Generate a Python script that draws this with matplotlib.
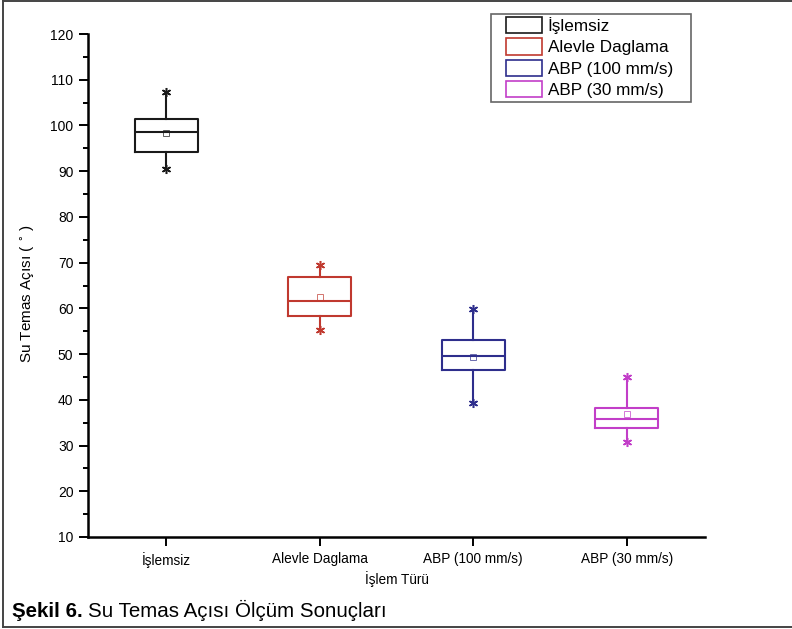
import matplotlib
matplotlib.use("Agg")
import matplotlib.pyplot as plt
from matplotlib.lines import Line2D
from matplotlib.patches import Rectangle, Patch

matplotlib.rcParams['font.family'] = ['Liberation Sans', 'DejaVu Sans']
matplotlib.rcParams['font.size'] = 10

# box statistics (water contact angle, degrees)
groups = ["İşlemsiz", "Alevle Daglama", "ABP (100 mm/s)", "ABP (30 mm/s)"]
q1 = [94.2, 58.3, 46.6, 33.8]
med = [98.5, 61.6, 49.5, 35.8]
q3 = [101.5, 66.9, 53.0, 38.3]
mean = [98.3, 62.4, 49.4, 37.0]
wlo = [90.4, 55.2, 39.2, 30.8]
whi = [107.4, 69.4, 59.8, 45.0]
colors = ["#1a1a1a", "#c0392f", "#2e2e8c", "#c23ec8"]

W, H = 792, 629
fig = plt.figure(figsize=(W / 100, H / 100), dpi=100)
ax = fig.add_axes([88 / W, 1 - 537 / H, (705 - 88) / W, (537 - 34) / H])

pos = list(range(1, len(groups) + 1))
for i in range(len(groups)):
    st = [dict(med=med[i], q1=q1[i], q3=q3[i], whislo=wlo[i], whishi=whi[i],
               mean=mean[i], fliers=[])]
    c = colors[i]
    ax.bxp(st, positions=[pos[i]], widths=0.41, showmeans=True, showcaps=False,
           showfliers=False, patch_artist=False,
           boxprops=dict(color=c, linewidth=1.5),
           medianprops=dict(color=c, linewidth=1.5),
           whiskerprops=dict(color=c, linewidth=1.5),
           meanprops=dict(marker='s', markersize=5, markerfacecolor='none',
                          markeredgecolor=c, markeredgewidth=0.7, alpha=0.7))
    # asterisks at the whisker ends
    ax.plot([pos[i], pos[i]], [wlo[i], whi[i]], ls='none', marker=(6, 2, 0),
            markersize=6.5, markeredgewidth=1.1, color=c)

ax.set_xlim(0.49, 4.51)
ax.set_ylim(10, 120)
ax.set_yticks(range(10, 121, 10))
ax.set_yticks(range(15, 120, 10), minor=True)
ax.set_xticks(pos)
ax.set_xticklabels(groups, fontsize=9.8)
ax.tick_params(axis='y', which='major', direction='out', length=6.5, width=1.4,
               labelsize=10, pad=4)
ax.tick_params(axis='y', which='minor', direction='out', length=3.6, width=1.4)
ax.tick_params(axis='x', which='major', direction='out', length=6.5, width=1.4,
               pad=4)
ax.spines['top'].set_visible(False)
ax.spines['right'].set_visible(False)
ax.spines['left'].set_linewidth(1.8)
ax.spines['bottom'].set_linewidth(1.8)

ax.set_ylabel("Su Temas Açısı ( $^{\\circ}$ )", fontsize=11)
ax.yaxis.set_label_coords(-0.083, 0.483)
ax.set_xlabel("İşlem Türü", fontsize=9.8)
ax.xaxis.set_label_coords(0.5, -0.068)

# legend, frame drawn separately
handles = [Patch(facecolor='white', edgecolor=c, linewidth=1.2) for c in colors]
fig.legend(handles, groups, loc='upper left',
           bbox_to_anchor=(506 / W, 1 - 17 / H), frameon=False, fontsize=12.3,
           handlelength=2.1, handleheight=1.1, handletextpad=0.35,
           labelspacing=0.25, borderpad=0.0, borderaxespad=0.0)
fig.add_artist(Rectangle((491 / W, 1 - 102 / H), 200 / W, 88 / H,
                         transform=fig.transFigure, fill=False,
                         edgecolor='#666666', linewidth=1.2))

# caption
renderer = fig.canvas.get_renderer()
t1 = fig.text(12 / W, 1 - 617 / H, "Şekil 6.", fontsize=14.8, fontweight='bold',
              va='baseline', ha='left')
bb = t1.get_window_extent(renderer)
fig.text((bb.x1 + 5) / W, 1 - 617 / H, "Su Temas Açısı Ölçüm Sonuçları",
         fontsize=14.8, va='baseline', ha='left')

# page frame around the figure (left, top, bottom)
for xs, ys in [([3, 3], [1, 627]), ([3, W], [1, 1]), ([3, W], [627, 627])]:
    fig.add_artist(Line2D([x / W for x in xs], [1 - y / H for y in ys],
                          transform=fig.transFigure, color='#444444',
                          linewidth=1.4))

fig.savefig("out.png", dpi=100)
